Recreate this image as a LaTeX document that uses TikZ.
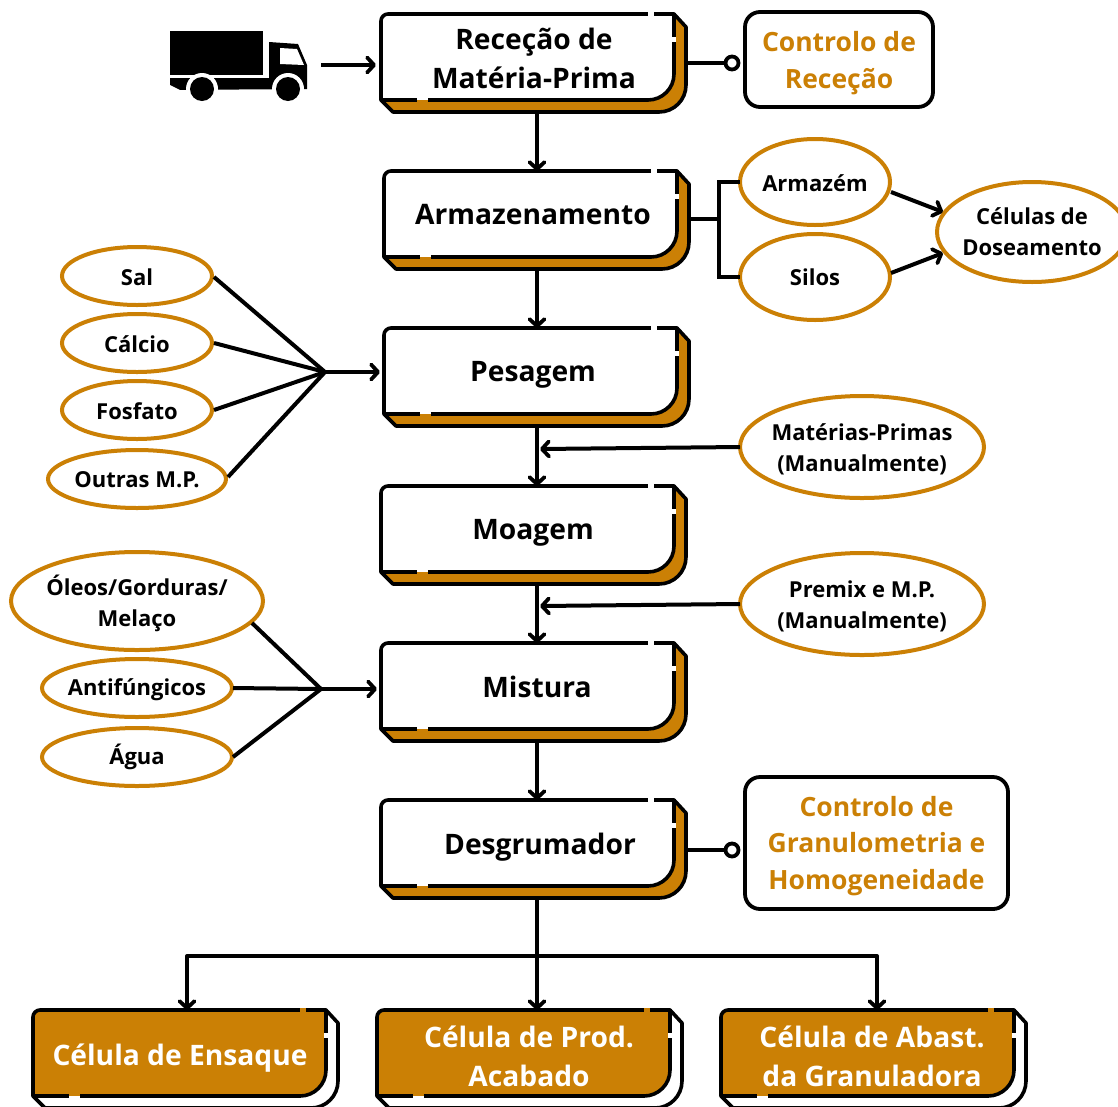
\documentclass[tikz,border=0pt]{standalone}
\usepackage{fontspec}
\setmainfont{Open Sans}
\usetikzlibrary{arrows.meta,calc,shapes.geometric}
\definecolor{ochre}{HTML}{CB8005}
\tikzset{
  x=1pt,y=-1pt,
  line/.style={line width=4pt,black},
  arrow/.style={line,-{Straight Barb[length=7pt,width=15pt,line width=3.8pt,round]},line join=round},
  outl/.style={line width=3.6pt,black,line join=round},
  anchorbox/.style={inner sep=0pt,outer sep=0pt,minimum width=305pt,minimum height=98pt},
  title/.style={font=\bfseries\fontsize{28.2}{39}\selectfont,align=center,inner sep=0pt},
  wtitle/.style={title,text=white},
  ntitle/.style={font=\bfseries\fontsize{26.5}{36.8}\selectfont,align=center,inner sep=0pt,text=ochre},
  small/.style={font=\bfseries\fontsize{22}{31}\selectfont,align=center,inner sep=0pt},
  oval/.style={ellipse,draw=ochre,line width=4pt,fill=white,inner sep=0pt,outer sep=0pt},
  note/.style={draw=black,line width=3.8pt,rounded corners=15pt,fill=white,inner sep=0pt,outer sep=0pt},
  dot/.style={circle,draw=black,line width=3.8pt,fill=white,minimum size=13pt,inner sep=0pt,outer sep=0pt},
}
% #1 name, #2,#3 top-left, #4 front fill, #5 back fill, #6 text style, #7,#8 text centre, #9 text
\newcommand{\procbox}[9]{%
  \begin{scope}[shift={(#2,#3)}]
    \draw[outl,fill=#5] (293,0) -- (305,13) -- (305,71) arc[start angle=0,end angle=90,radius=27] -- (12,98) -- (0,86) -- cycle;
    \draw[outl,fill=#4] (7,0) -- (293,0) -- (293,60) arc[start angle=0,end angle=90,radius=26] -- (0,86) -- (0,7) arc[start angle=180,end angle=270,radius=7] -- cycle;
    \draw[line width=4.2pt,#4] (267,0) -- (273,0);
    \draw[line width=4.2pt,white] (293,23) -- (293,28);
    \draw[line width=2.1pt,#4] (36,85) -- (47,85);
    \draw[line width=2.1pt,#5] (36,87) -- (47,87);
  \end{scope}
  \node[anchorbox] (#1) at ($(#2,#3)+(152.5,49)$) {};
  \node[#6] (#1-t) at (#7,#8) {#9};
}
% #1 name, #2 x, #3 y, #4 width, #5 height, #6 text y, #7 text
\newcommand{\ovalnode}[7]{%
  \node[oval,minimum width=#4pt,minimum height=#5pt] (#1) at (#2,#3) {};
  \node[small] (#1-t) at (#2,#6) {#7};
}
\begin{document}
\begin{tikzpicture}
\useasboundingbox (0,0) rectangle (1118,1106);
\clip (0,0) rectangle (1118,1106);
\coordinate (spine) at (537,0);
% truck
\fill (170,31) rectangle (263,75);
\fill (170,78) -- (269,78) -- (269,42) -- (298,44) -- (307,65) -- (307,89) -- (170,90) -- cycle;
\fill[white] (280,48) -- (297,49) -- (304,65) -- (280,64) -- cycle;
\fill[white] (202,89) circle[radius=16];
\fill[white] (288,89) circle[radius=16];
\fill[white] (165,90) rectangle (190,106);
\fill[white] (170,85) -- (180,90) -- (170,90) -- cycle;
\fill (202,89) circle[radius=12];
\fill (288,89) circle[radius=12];
\coordinate (truck) at (321,65);
% process boxes
\procbox{rec}{381}{14}{white}{ochre}{title}{534}{58}{Receção de\\Matéria-Prima}
\procbox{arm}{384}{171}{white}{ochre}{title}{533}{215}{Armazenamento}
\procbox{pes}{384}{328}{white}{ochre}{title}{533}{375}{Pesagem}
\procbox{moa}{381}{486}{white}{ochre}{title}{533}{533}{Moagem}
\procbox{mis}{381}{643}{white}{ochre}{title}{537}{687}{Mistura}
\procbox{des}{381}{800}{white}{ochre}{title}{540}{847}{Desgrumador}
\procbox{ens}{33}{1010}{ochre}{white}{wtitle}{180}{1058}{Célula de Ensaque}
\procbox{pro}{377}{1010}{ochre}{white}{wtitle}{529}{1056}{Célula de Prod.\\Acabado}
\procbox{aba}{721}{1010}{ochre}{white}{wtitle}{872}{1056}{Célula de Abast.\\da Granuladora}
% notes
\node[note,minimum width=188pt,minimum height=95pt] (cr) at (839,59.5) {};
\node[ntitle] (cr-t) at (839,63) {Controlo de\\Receção};
\node[note,minimum width=263pt,minimum height=132pt] (cg) at (876.5,843) {};
\node[ntitle] (cg-t) at (876.5,846) {Controlo de\\Granulometria e\\Homogeneidade};
\node[dot] (d1) at (732,63) {};
\node[dot] (d2) at (732,850) {};
% ovals
\ovalnode{sal}{137}{276}{150}{58}{277}{Sal}
\ovalnode{cal}{137}{343}{150}{58}{344}{Cálcio}
\ovalnode{fos}{137}{410}{150}{58}{411}{Fosfato}
\ovalnode{out}{137}{479}{178}{58}{480}{Outras M.P.}
\ovalnode{ole}{137}{601}{252}{98}{603}{Óleos/Gorduras/\\Melaço}
\ovalnode{ant}{137}{688}{190}{58}{690}{Antifúngicos}
\ovalnode{agu}{137}{757}{190}{58}{757}{Água}
\ovalnode{arz}{815}{182}{150}{86}{183}{Armazém}
\ovalnode{sil}{815}{277}{150}{86}{277}{Silos}
\ovalnode{cel}{1032}{232}{190}{100}{232}{Células de\\Doseamento}
\ovalnode{mat}{862}{447}{244}{102}{449}{Matérias-Primas\\(Manualmente)}
\ovalnode{pre}{862}{604}{244}{102}{606}{Premix e M.P.\\(Manualmente)}
% junctions
\coordinate (j1) at (325,372);
\coordinate (j2) at (321,689);
\coordinate (j3) at (719,219);
\coordinate (bl) at (187,956);
\coordinate (br) at (877,956);
% connectors
\draw[arrow,shorten >=5pt] (truck) -- (rec.west |- truck);
\draw[arrow] (rec.south -| spine) -- (arm.north -| spine);
\draw[arrow] (arm.south -| spine) -- (pes.north -| spine);
\draw[arrow] (pes.south -| spine) -- (moa.north -| spine);
\draw[arrow] (moa.south -| spine) -- (mis.north -| spine);
\draw[arrow] (mis.south -| spine) -- (des.north -| spine);
\draw[arrow] (des.south -| spine) -- (pro.north -| spine);
\draw[line] (rec.east |- d1) -- (d1);
\draw[line] (des.east |- d2) -- (d2);
\draw[line] (arm.east |- j3) -- (j3);
\draw[line,line join=miter] (arz.west) -- (j3 |- arz.west) -- (j3 |- sil.west) -- (sil.west);
\draw[arrow] (arz) ++(76,10) -- ($(cel.west)+(6,-20)$);
\draw[arrow] (sil) ++(76,-4) -- ($(cel.west)+(6,21)$);
\draw[line] (sal.east) ++(2,1) -- (j1);
\draw[line] (cal.east) ++(2,0) -- (j1);
\draw[line] (fos.east) ++(2,0) -- (j1);
\draw[line] (out.east) ++(2,-2) -- (j1);
\draw[arrow,shorten >=4pt] (j1) -- (pes.west |- j1);
\draw[arrow] (mat.west) -- ($(spine |- mat.west)+(3,2)$);
\draw[arrow] (pre.west) -- ($(spine |- pre.west)+(3,2)$);
\draw[line] (ole.east) ++(-11,22) -- (j2);
\draw[line] (ant.east) ++(1,0) -- (j2);
\draw[line] (agu.east) ++(1,0) -- (j2);
\draw[arrow,shorten >=4pt] (j2) -- (mis.west |- j2);
\draw[line,line cap=round] (bl) -- (br);
\draw[arrow] (bl) -- (ens.north -| bl);
\draw[arrow] (br) -- (aba.north -| br);
\end{tikzpicture}
\end{document}
